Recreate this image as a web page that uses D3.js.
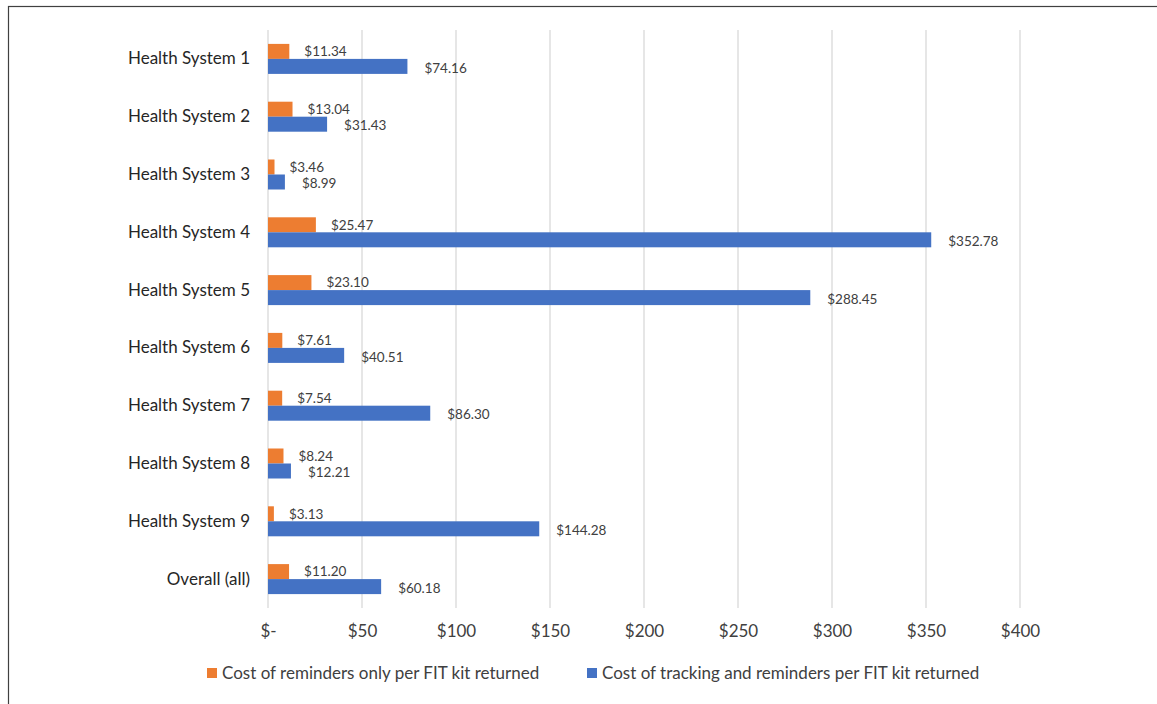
<!DOCTYPE html>
<html><head><meta charset="utf-8">
<script src="https://cdn.jsdelivr.net/npm/d3@7"></script>
<style>body{margin:0;background:#fff;} svg{display:block;}</style>
</head><body>
<script>
const categories = ["Health System 1","Health System 2","Health System 3","Health System 4","Health System 5","Health System 6","Health System 7","Health System 8","Health System 9","Overall (all)"];
const remindersOnly = [11.34,13.04,3.46,25.47,23.10,7.61,7.54,8.24,3.13,11.20];
const trackingAndReminders = [74.16,31.43,8.99,352.78,288.45,40.51,86.30,12.21,144.28,60.18];
const tickValues = [0,50,100,150,200,250,300,350,400];
const seriesNames = ["Cost of reminders only per FIT kit returned","Cost of tracking and reminders per FIT kit returned"];
const colors = ["#ED7D31","#4472C4"];

const W=1157,H=704;
const font = "Lato, 'Open Sans', sans-serif";
const svg = d3.select("body").append("svg").attr("width",W).attr("height",H);
svg.append("rect").attr("x",8.5).attr("y",6.5).attr("width",W+10).attr("height",H+10)
  .attr("fill","#fff").attr("stroke","#404040").attr("stroke-width",1.2);

const x = d3.scaleLinear().domain([0,400]).range([268,1020]);
const y = d3.scaleBand().domain(categories).range([30,608]);
const barH = 15;

// gridlines
svg.append("g").selectAll("line").data(tickValues).join("line")
  .attr("x1",d=>x(d)).attr("x2",d=>x(d)).attr("y1",30).attr("y2",608)
  .attr("stroke","#d9d9d9").attr("stroke-width",1.3);

// x axis labels
const xAxis = d3.axisBottom(x).tickValues(tickValues).tickSize(0).tickPadding(0)
  .tickFormat(d=> d===0 ? "$-" : "$"+d);
const ax = svg.append("g").attr("transform","translate(0,625)").call(xAxis);
ax.select(".domain").remove();
ax.selectAll("text").attr("font-family",font).attr("font-size",17).attr("fill","#404040").attr("dy","0.71em");

// y labels
const yAxis = d3.axisLeft(y).tickSize(0).tickPadding(18);
const ay = svg.append("g").attr("transform","translate(268,0)").call(yAxis);
ay.select(".domain").remove();
ay.selectAll("text").attr("font-family",font).attr("font-size",17).attr("fill","#262626");

const cy = c => y(c)+y.bandwidth()/2;

// orange bars
svg.append("g").selectAll("rect").data(categories).join("rect")
  .attr("x",x(0)).attr("y",c=>cy(c)-barH).attr("height",barH)
  .attr("width",(c,i)=>x(remindersOnly[i])-x(0)).attr("fill",colors[0]);
// blue bars
svg.append("g").selectAll("rect").data(categories).join("rect")
  .attr("x",x(0)).attr("y",c=>cy(c)).attr("height",barH)
  .attr("width",(c,i)=>x(trackingAndReminders[i])-x(0)).attr("fill",colors[1]);

// labels
svg.append("g").selectAll("text").data(categories).join("text")
  .attr("x",(c,i)=>x(remindersOnly[i])+15).attr("y",c=>cy(c)-barH/2)
  .attr("dy","0.35em").attr("font-family",font).attr("font-size",13.5).attr("fill","#404040")
  .text((c,i)=>"$"+remindersOnly[i].toFixed(2));
svg.append("g").selectAll("text").data(categories).join("text")
  .attr("x",(c,i)=>x(trackingAndReminders[i])+17).attr("y",c=>cy(c)+barH/2+1.5)
  .attr("dy","0.35em").attr("font-family",font).attr("font-size",13.5).attr("fill","#404040")
  .text((c,i)=>"$"+trackingAndReminders[i].toFixed(2));

// legend
const leg = [{x:207,name:seriesNames[0],c:colors[0]},{x:587,name:seriesNames[1],c:colors[1]}];
const lg = svg.append("g").selectAll("g").data(leg).join("g").attr("transform",d=>`translate(${d.x},668)`);
lg.append("rect").attr("width",10).attr("height",10).attr("fill",d=>d.c);
lg.append("text").attr("x",15).attr("y",5).attr("dy","0.35em").attr("font-family",font)
  .attr("font-size",17).attr("fill","#404040").text(d=>d.name);
</script>
</body></html>
